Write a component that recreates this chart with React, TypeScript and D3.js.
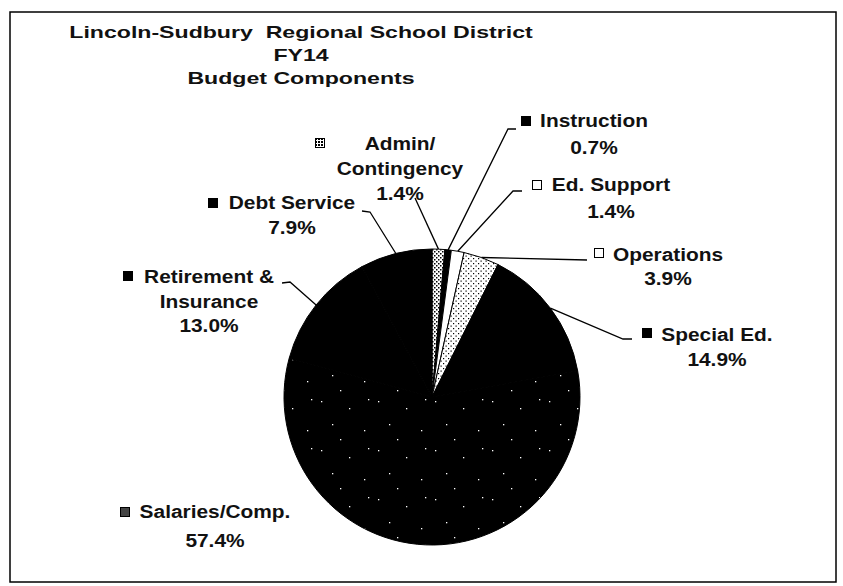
import React from "react";
import * as d3 from "d3";

// ---- data ----
const categories = [
  "Admin/Contingency",
  "Instruction",
  "Ed. Support",
  "Operations",
  "Special Ed.",
  "Salaries/Comp.",
  "Retirement & Insurance",
  "Debt Service",
];
const values = [1.4, 0.7, 1.4, 3.9, 14.9, 57.4, 13.0, 7.9];
const labelLines = [
  ["Admin/", "Contingency"],
  ["Instruction"],
  ["Ed. Support"],
  ["Operations"],
  ["Special Ed."],
  ["Salaries/Comp."],
  ["Retirement &", "Insurance"],
  ["Debt Service"],
];
const titleLines = ["Lincoln-Sudbury  Regional School District", "FY14", "Budget Components"];

// ---- styles / layout ----
const fills = ["url(#pAdmin)", "#000", "#fff", "url(#pOps)", "#000", "url(#pSal)", "#000", "#000"];
const markerFills = ["url(#pAdminM)", "#000", "#fff", "#fff", "#000", "#444", "#000", "#000"];
const layout = [
  { x: 400, y: 150, gap: 25, marker: [320, 143], leader: [[415, 198]] },
  { x: 594, y: 127, gap: 27, marker: [526, 121], leader: [[516, 129], [508, 129]] },
  { x: 611, y: 191, gap: 27, marker: [537, 185], leader: [[522, 191], [513, 191]] },
  { x: 668, y: 261, gap: 24, marker: [599, 253], leader: [[587, 260]] },
  { x: 717, y: 341, gap: 25, marker: [647, 333], leader: [[632, 339], [623, 339]] },
  { x: 215, y: 518, gap: 29, marker: [125, 512], leader: [] as number[][] },
  { x: 209, y: 283, gap: 24.5, marker: [128, 276], leader: [[282, 283], [290, 282]] },
  { x: 292, y: 209, gap: 25, marker: [213, 203], leader: [[362, 211], [370, 212]] },
];

const cx = 432;
const cy = 397;
const R = 148;
const FONT = "'Liberation Sans', Arial, sans-serif";

export default function App() {
  const pie = d3
    .pie<number>()
    .sort(null)
    .value((d) => d)
    .startAngle(0)
    .endAngle(2 * Math.PI);
  const arcs = pie(values);
  const arc = d3.arc<d3.PieArcDatum<number>>().innerRadius(0).outerRadius(R);
  const edge = d3.arc<d3.PieArcDatum<number>>().innerRadius(R).outerRadius(R);
  const fmt = (v: number) => `${v.toFixed(1)}%`;

  return (
    <svg
      width={843}
      height={586}
      style={{ position: "absolute", left: 0, top: 0, background: "#fff" }}
      fontFamily={FONT}
    >
      <defs>
        <pattern id="pAdmin" width="4" height="4" patternUnits="userSpaceOnUse">
          <rect width="4" height="4" fill="#fff" />
          <rect x="0" y="0" width="1.5" height="1.5" fill="#000" />
          <rect x="2" y="2" width="1.5" height="1.5" fill="#000" />
        </pattern>
        <pattern id="pAdminM" width="3" height="3" patternUnits="userSpaceOnUse">
          <rect width="3" height="3" fill="#fff" />
          <rect x="0" y="0" width="2" height="2" fill="#000" />
        </pattern>
        <pattern id="pOps" width="5" height="5" patternUnits="userSpaceOnUse">
          <rect width="5" height="5" fill="#fff" />
          <rect x="1" y="1" width="1.2" height="1.2" fill="#000" />
          <rect x="3.5" y="3.5" width="1.2" height="1.2" fill="#000" />
        </pattern>
        <pattern id="pSal" width="57" height="49" patternUnits="userSpaceOnUse">
          <rect width="57" height="49" fill="#000" />
          <rect x="3" y="4" width="1.3" height="1.3" fill="#fff" />
          <rect x="31" y="11" width="1.3" height="1.3" fill="#fff" />
          <rect x="14" y="27" width="1.3" height="1.3" fill="#fff" />
          <rect x="46" y="33" width="1.3" height="1.3" fill="#fff" />
          <rect x="22" y="42" width="1.3" height="1.3" fill="#fff" />
          <rect x="50" y="2" width="1.3" height="1.3" fill="#fff" />
        </pattern>
      </defs>

      <rect x={10} y={12} width={826} height={570} fill="none" stroke="#000" strokeWidth={1.5} />

      {titleLines.map((t, i) => (
        <g key={t} transform={`translate(301,${38 + i * 23}) scale(1.36,1)`}>
          <text
            textAnchor="middle"
            fontSize={17}
            fontWeight="bold"
            fill="#111"
            style={{ whiteSpace: "pre" }}
          >
            {t}
          </text>
        </g>
      ))}

      <g transform={`translate(${cx},${cy})`}>
        {arcs.map((a, i) => (
          <path key={categories[i]} d={arc(a) || ""} fill={fills[i]} stroke="#000" strokeWidth={1} />
        ))}
      </g>

      {arcs.map((a, i) => {
        const L = layout[i];
        if (!L.leader.length) return null;
        const [ex, ey] = edge.centroid(a);
        const pts = [...L.leader, [cx + ex, cy + ey]];
        return (
          <path
            key={"l" + i}
            d={d3.line()(pts as [number, number][]) || ""}
            fill="none"
            stroke="#000"
            strokeWidth={1.3}
          />
        );
      })}

      {arcs.map((a, i) => {
        const L = layout[i];
        const lines = [...labelLines[i], fmt(values[i])];
        return (
          <g key={"t" + i}>
            <rect
              x={L.marker[0] - 4.5}
              y={L.marker[1] - 4.5}
              width={9}
              height={9}
              fill={markerFills[i]}
              stroke="#000"
              strokeWidth={1}
            />
            {lines.map((s, j) => (
              <g key={j} transform={`translate(${L.x},${L.y + j * L.gap}) scale(1.16,1)`}>
                <text textAnchor="middle" fontSize={18} fontWeight="bold" fill="#111">
                  {s}
                </text>
              </g>
            ))}
          </g>
        );
      })}
    </svg>
  );
}
